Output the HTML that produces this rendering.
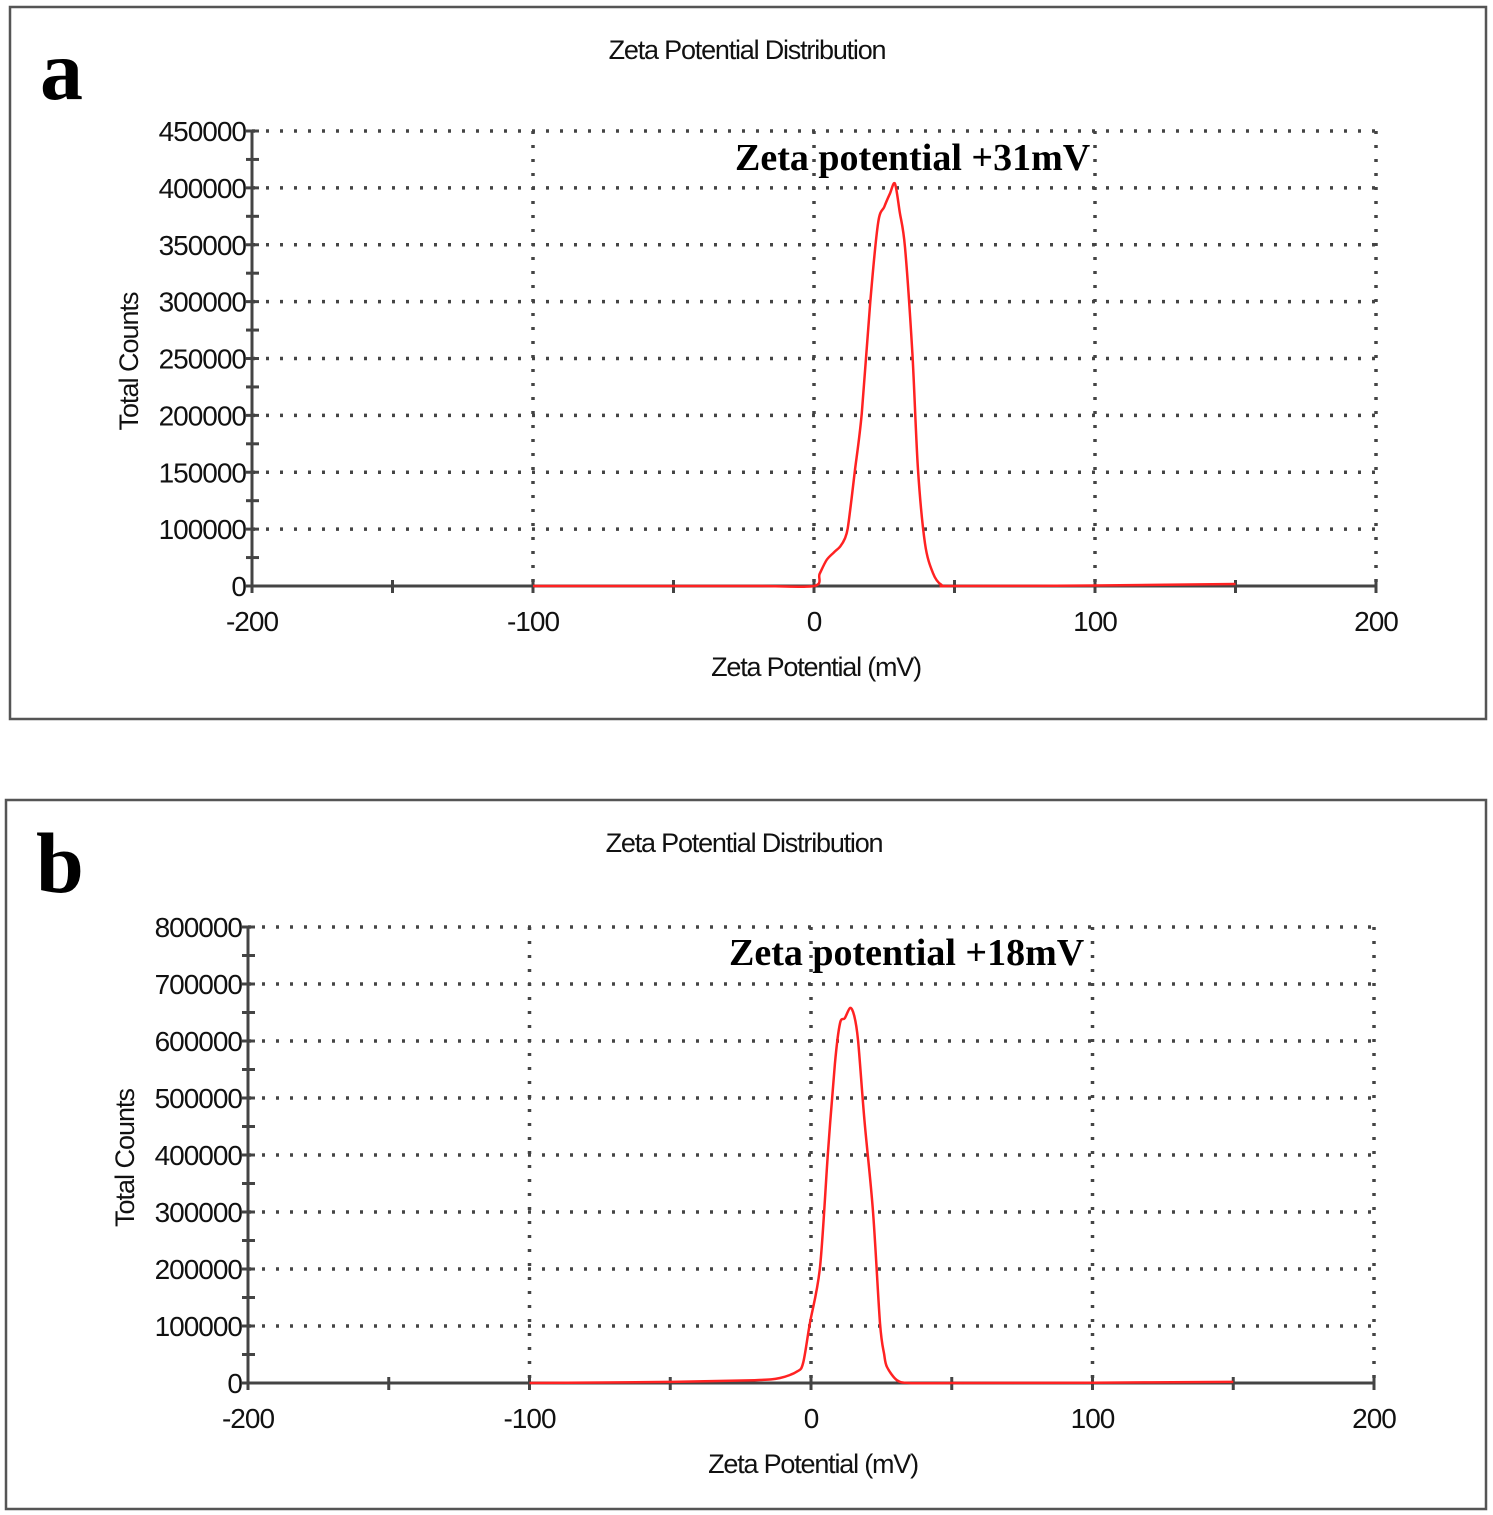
<!DOCTYPE html>
<html><head><meta charset="utf-8"><style>
html,body{margin:0;padding:0;background:#fff;width:1493px;height:1515px;overflow:hidden}
svg text{font-family:"Liberation Sans",sans-serif}
</style></head><body>
<svg id="fig" width="1493" height="1515" xmlns="http://www.w3.org/2000/svg"></svg>
<script>
const xTicks=[-200,-100,0,100,200];
const aYLabels=["0","100000","150000","200000","250000","300000","350000","400000","450000"];
const aX=[-100,-50,-20,0,2,4.5,7,9.3,11,12,13.3,14.6,17,20,22.8,25,27,28.8,30.5,32.4,35,37,39.5,42.3,45.4,50,100,150];
const aY=[0,0,0,0,12000,25700,33000,39000,47000,57000,85000,115000,171000,280000,359000,375000,388000,398000,370000,335000,230000,115000,42000,13000,1000,0,500,2000];
const bYLabels=["0","100000","200000","300000","400000","500000","600000","700000","800000"];
const bX=[-100,-50,-20,-11,-5,-2.8,-0.4,3.2,6,8.5,10.3,12,13.9,15.3,16.7,19,22,24.5,26,27,30.5,35,50,100,150];
const bY=[0,2000,5000,8800,20000,35000,105000,203000,403000,560000,631000,640000,658000,645000,602000,460000,303000,105000,50000,28000,5000,0,0,500,2000];
const NS="http://www.w3.org/2000/svg";
const svg=document.getElementById('fig');
function mk(tag,attrs,parent,text){const e=document.createElementNS(NS,tag);for(const k in attrs)e.setAttribute(k,attrs[k]);if(text!==undefined)e.textContent=text;(parent||svg).appendChild(e);return e;}
function smooth(pts){let d='M'+pts[0][0].toFixed(1)+' '+pts[0][1].toFixed(1);for(let i=0;i<pts.length-1;i++){const p0=pts[i-1]||pts[i],p1=pts[i],p2=pts[i+1],p3=pts[i+2]||p2;const t=0.15;const c1=[p1[0]+(p2[0]-p0[0])*t,p1[1]+(p2[1]-p0[1])*t],c2=[p2[0]-(p3[0]-p1[0])*t,p2[1]-(p3[1]-p1[1])*t];d+=` C${c1[0].toFixed(1)} ${c1[1].toFixed(1)} ${c2[0].toFixed(1)} ${c2[1].toFixed(1)} ${p2[0].toFixed(1)} ${p2[1].toFixed(1)}`;}return d;}
function panel(p){
  const g=mk('g',{});
  
  
  const fr=mk('rect',{x:p.fx,y:p.fy,width:p.fw,height:p.fh,fill:'#fff',stroke:'#555','stroke-width':2.5},g);
  
  const L=mk('text',{x:p.fx+30,y:p.fy+92,'font-size':86,'font-weight':'bold',fill:'#000',style:'font-family:"Liberation Serif",serif'},g,p.letter);
  
  const xs=v=>p.x0+(v+200)/400*(p.x1-p.x0);
  const ys=v=>p.y0-v/p.ymax*(p.y0-p.y1);
  const step=(p.y0-p.y1)/8;
  const yi=i=>p.y0-i*step;
  const t=mk('text',{x:p.tx,y:p.fy+52,'font-size':27,'text-anchor':'middle',fill:'#111','letter-spacing':'-1.2'},g,'Zeta Potential Distribution');
  
  xTicks.forEach(v=>{if(v>-200){const l=mk('line',{x1:xs(v),x2:xs(v),y1:p.y1,y2:p.y0,stroke:'#444','stroke-width':3.5,'stroke-dasharray':'3 11'},g);}});
  p.yl.forEach((s,i)=>{if(i>0){const l=mk('line',{x1:p.x0,x2:p.x1,y1:yi(i),y2:yi(i),stroke:'#444','stroke-width':3.5,'stroke-dasharray':'3 11'},g);}});
  const ax=mk('line',{x1:p.x0,x2:p.x1,y1:p.y0,y2:p.y0,stroke:'#444','stroke-width':3},g);
  const ay=mk('line',{x1:p.x0,x2:p.x0,y1:p.y1,y2:p.y0,stroke:'#444','stroke-width':3},g);
  for(let v=-200;v<=200;v+=50){const l=mk('line',{x1:xs(v),x2:xs(v),y1:p.y0-6,y2:p.y0+7,stroke:'#444','stroke-width':3},g);}
  xTicks.forEach(v=>{const tx=mk('text',{x:xs(v),y:p.y0+45,'font-size':28,'text-anchor':'middle',fill:'#111','letter-spacing':'-1'},g,String(v));});
  for(let i=0;i<=16;i++){const y=p.y0-i*step/2;const l=mk('line',{x1:p.x0-6,x2:p.x0+7,y1:y,y2:y,stroke:'#444','stroke-width':3},g);}
  p.yl.forEach((s,i)=>{const tx=mk('text',{x:p.x0-6,y:yi(i)+10,'font-size':28,'text-anchor':'end',fill:'#111','letter-spacing':'-1'},g,s);});
  const xt=mk('text',{x:xs(0)+2,y:p.y0+90,'font-size':27,'text-anchor':'middle',fill:'#111','letter-spacing':'-1.2'},g,'Zeta Potential (mV)');
  const cy=(p.y0+p.y1)/2+3;
  const yt=mk('text',{x:p.x0-114,y:cy,'font-size':27,'text-anchor':'middle',fill:'#111','letter-spacing':'-1',transform:`rotate(-90 ${p.x0-114} ${cy})`},g,'Total Counts');
  const pts=p.xd.map((v,i)=>[xs(v),ys(p.yd[i])]);
  const c=mk('path',{d:smooth(pts),fill:'none',stroke:'#f22','stroke-width':2.5,'stroke-linejoin':'round'},g);
  const an=mk('text',{x:p.ax,y:p.ay,'font-size':38,'font-weight':'bold',fill:'#000',style:'font-family:"Liberation Serif",serif'},g,p.ann);
}
panel({letter:'a',fx:10,fy:7,fw:1476,fh:712,x0:252,x1:1376,y0:586,y1:131,ymax:450000,yl:aYLabels,xd:aX,yd:aY,ann:'Zeta potential +31mV',ax:735,ay:170,tx:747});
panel({letter:'b',fx:6,fy:800,fw:1480,fh:709,x0:248,x1:1374,y0:1383,y1:927,ymax:800000,yl:bYLabels,xd:bX,yd:bY,ann:'Zeta potential +18mV',ax:729,ay:965,tx:744});
</script>
</body></html>
